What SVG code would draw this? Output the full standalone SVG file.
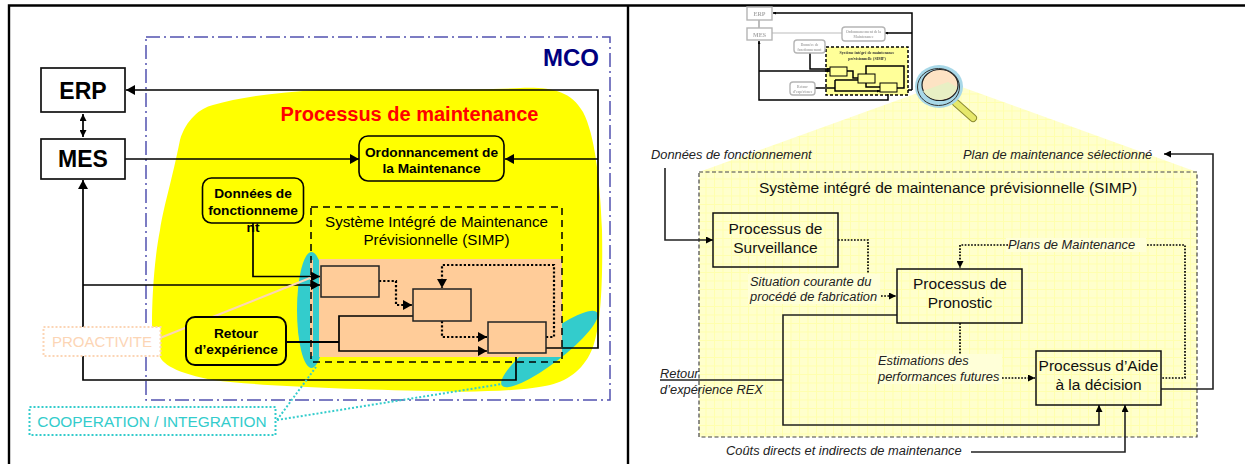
<svg xmlns="http://www.w3.org/2000/svg" width="1245" height="464" viewBox="0 0 1245 464">
<style>
text{font-family:"Liberation Sans",Arial,sans-serif;fill:#000;text-anchor:middle}
.c{fill:none;stroke:#000;stroke-width:1.7}
.d{fill:none;stroke:#000;stroke-width:2.2;stroke-dasharray:2.2 2}
.ds{fill:none;stroke:#000;stroke-width:1.7;stroke-dasharray:1.7 1.5}
.b{fill:#fff;stroke:#111;stroke-width:1.7}
.y{fill:#ffff00;stroke:#000;stroke-width:1.6}
.s{fill:none;stroke:#222;stroke-width:1.6}
.bl{font-weight:bold;font-size:13.7px}
.it{font-style:italic;font-size:12.85px;text-anchor:start;fill:#222}
.p{font-size:15.5px;fill:#111}
.g{fill:#fff;stroke:#b5b5b5;stroke-width:1.4}
.t{font-family:"Liberation Serif",serif;font-weight:bold;fill:#aaa;font-size:3.6px}
.k{fill:none;stroke:#000;stroke-width:1.5}
</style>
<defs>
<marker id="a" markerUnits="userSpaceOnUse" markerWidth="9" markerHeight="10" refX="9" refY="5" orient="auto-start-reverse"><path d="M0 0L9 5L0 10Z" fill="#000"/></marker>
<marker id="as" markerUnits="userSpaceOnUse" markerWidth="7" markerHeight="7" refX="7" refY="3.5" orient="auto-start-reverse"><path d="M0 0L7 3.5L0 7Z" fill="#000"/></marker>
<marker id="at" markerUnits="userSpaceOnUse" markerWidth="3" markerHeight="3" refX="3" refY="1.5" orient="auto"><path d="M0 0L3 1.5L0 3Z" fill="#000"/></marker>
<pattern id="grid" patternUnits="userSpaceOnUse" width="8.5" height="8.5"><rect width="8.5" height="8.5" fill="#ffffcc"/><path d="M0 .5H8.5M.5 0V8.5" stroke="#ffff99" stroke-width="1" opacity=".6"/></pattern>
<filter id="soft"><feGaussianBlur stdDeviation="0.4"/></filter>
</defs>

<g id="frame" fill="none" stroke="#000" stroke-width="2.4">
<path d="M9 464V5.500H1245"/><path d="M628 5.500V464"/>
</g>

<g id="mco"><rect x="146" y="37" width="464" height="363" fill="none" stroke="#5252b0" stroke-width="1.5" stroke-dasharray="14 4 2 4"/>
<text x="571" y="66" font-size="24" font-weight="bold" style="fill:#000080">MCO</text></g>

<path id="processus-zone" fill="#ffff00" d="M320 90C400 90 480 90 520 88C550 87 570 90 583 112C595 135 600 180 602 230C603 280 601 325 593 347C585 368 570 380 550 385C530 390 480 393 433 391C340 389 260 386 213 380C190 376 165 368 160 357C153 345 152 330 152 323C152 300 154 260 160 230C164 205 172 180 180 140C186 120 200 108 213 105C240 97 280 92 320 90Z"/>
<text x="409.500" y="121" font-size="20" font-weight="bold" style="fill:#ff0000">Processus de maintenance</text>

<ellipse id="coop-left" cx="311.500" cy="310" rx="14.500" ry="58" fill="#33cccc"/>
<ellipse id="coop-right" cx="549.500" cy="349" rx="60" ry="14" transform="rotate(-37.500 549.500 349)" fill="#33cccc"/>
<rect id="proactive-zone" x="319" y="259" width="243" height="98" fill="#ffcc99"/>
<rect id="proactive-strip" x="310" y="260" width="3" height="96" fill="#ffcc99"/>

<g id="simp"><rect x="311" y="207" width="251" height="155" fill="none" stroke="#000" stroke-width="1.5" stroke-dasharray="7 5"/>
<text x="436.500" y="227" font-size="15.200">Système Intégré de Maintenance</text>
<text x="436.500" y="245" font-size="15.200">Prévisionnelle (SIMP)</text></g>

<g id="connectors-left">
<path class="c" d="M83 114V137" marker-start="url(#as)" marker-end="url(#as)"/>
<path class="c" d="M125 159H359" marker-end="url(#a)"/>
<path class="c" d="M598 159H505" marker-end="url(#a)"/>
<path class="c" d="M546 348H598V90H126" marker-end="url(#a)"/>
<path class="c" d="M516 357V380H83V180" marker-end="url(#a)"/>
<path class="c" d="M83 285H320" marker-end="url(#a)"/>
<path class="c" d="M253 223V276.500H320" marker-end="url(#a)"/>
<path class="c" d="M286 342H339" style="stroke-width:2.200"/>
<path class="c" d="M413 316H339V351H487" marker-end="url(#a)"/>
<path class="d" d="M379 281H396V305H412" marker-end="url(#a)"/>
<path class="d" d="M442 321V337H487" marker-end="url(#a)"/>
<path class="d" d="M546 337H554V265H442V288" marker-end="url(#a)"/>
<path fill="none" stroke="#fcd5b5" stroke-width="2" d="M160 338L310 278"/>
<path fill="none" stroke="#33cccc" stroke-width="2" stroke-dasharray="2 2" d="M277 420L316 367M277 420L502 384"/>
</g>

<g id="erp"><rect class="b" x="41" y="68" width="84" height="44"/><text x="83" y="99" font-size="23" font-weight="bold">ERP</text></g>
<g id="mes"><rect class="b" x="41" y="139" width="84" height="40"/><text x="83" y="167" font-size="23" font-weight="bold">MES</text></g>
<g id="ordonnancement"><rect class="y" x="359" y="136" width="145" height="45" rx="9"/><text class="bl" x="431.500" y="157">Ordonnancement de</text><text class="bl" x="431.500" y="173">la Maintenance</text></g>
<g id="donnees"><rect class="y" x="202.500" y="178" width="101" height="45" rx="9"/><text class="bl" x="253" y="198">Données de</text><text class="bl" x="253" y="215">fonctionneme</text><text class="bl" x="253" y="232">nt</text></g>
<g id="retour"><rect class="y" x="186" y="317" width="100" height="48" rx="9" style="stroke-width:2"/><text class="bl" x="236" y="338">Retour</text><text class="bl" x="236" y="354">d’expérience</text></g>
<g id="box-a"><rect x="321" y="266" width="58" height="31" fill="none" stroke="#222" stroke-width="1.500"/></g>
<g id="box-b"><rect x="413" y="289" width="58" height="32" fill="none" stroke="#222" stroke-width="1.500"/></g>
<g id="box-c"><rect x="488" y="322" width="58" height="31" fill="none" stroke="#222" stroke-width="1.500"/></g>
<g id="proactivite"><rect x="43.500" y="327" width="117" height="29" fill="#fff" stroke="#fcd5b5" stroke-width="2" stroke-dasharray="2 2"/><text x="102" y="347" font-size="15" style="fill:#fcd5b5">PROACTIVITE</text></g>
<g id="cooperation"><rect x="29.500" y="407" width="246" height="28" fill="#fff" stroke="#33cccc" stroke-width="2" stroke-dasharray="2 2"/><text x="152" y="427" font-size="15.400" style="fill:#33cccc">COOPERATION / INTEGRATION</text></g>

<path id="cone" fill="url(#grid)" d="M948 82L1197 172V437H699V172Z"/>
<rect id="simp-border" x="699" y="172" width="498" height="265" fill="none" stroke="#444" stroke-width="1.200" stroke-dasharray="4 2.500"/>
<text x="948" y="193" font-size="15.500" style="fill:#111">Système intégré de maintenance prévisionnelle (SIMP)</text>

<g id="label-backgrounds" fill="#ffffd8">
<rect x="748" y="274" width="132" height="30"/><rect x="1006" y="238" width="140" height="14"/><rect x="876" y="354" width="126" height="30"/>
</g>

<g id="connectors-right">
<path class="s" d="M665 168V240H713" marker-end="url(#as)"/>
<path class="ds" d="M838 240H868V274"/>
<path class="ds" d="M881 296H896" marker-end="url(#as)"/>
<path class="ds" d="M1008 245H960V268" marker-end="url(#as)"/>
<path class="ds" d="M1147 245H1185V378H1161"/>
<path class="ds" d="M960 323V354"/>
<path class="ds" d="M1002 378H1035" marker-end="url(#as)"/>
<path class="s" d="M660 380H783"/>
<path class="s" d="M897 315H783V425H1099V405" marker-end="url(#as)"/>
<path class="s" d="M971 452H1125V405" marker-end="url(#as)"/>
<path class="s" d="M1161 389H1213V154H1164" marker-end="url(#as)"/>
</g>

<g id="surveillance"><rect x="713" y="213" width="125" height="54" fill="none" stroke="#111" stroke-width="1.500"/><text class="p" x="775.500" y="234">Processus de</text><text class="p" x="775.500" y="253">Surveillance</text></g>
<g id="pronostic"><rect x="897" y="269" width="125" height="54" fill="none" stroke="#111" stroke-width="1.500"/><text class="p" x="960" y="289">Processus de</text><text class="p" x="960" y="308">Pronostic</text></g>
<g id="aide"><rect x="1036" y="351" width="125" height="54" fill="none" stroke="#111" stroke-width="1.500"/><text class="p" x="1098.500" y="371">Processus d’Aide</text><text class="p" x="1098.500" y="390">à la décision</text></g>

<g id="labels-right">
<text class="it" x="651" y="159">Données de fonctionnement</text>
<text class="it" x="963" y="159">Plan de maintenance sélectionné</text>
<text class="it" x="750" y="286">Situation courante du</text>
<text class="it" x="750" y="301">procédé de fabrication</text>
<text class="it" x="1008" y="249">Plans de Maintenance</text>
<text class="it" x="878" y="365">Estimations des</text>
<text class="it" x="878" y="381">performances futures</text>
<text class="it" x="660" y="378">Retour</text>
<text class="it" x="660" y="394">d’expérience REX</text>
<text class="it" x="726" y="455">Coûts directs et indirects de maintenance</text>
</g>

<g id="thumbnail" filter="url(#soft)">
<rect x="826" y="47" width="82" height="48" fill="#ffff99" stroke="#000" stroke-width="1.500" stroke-dasharray="3 2"/>
<path class="k" d="M912 90V13H773" marker-end="url(#at)"/>
<path class="k" d="M912 33H885" marker-end="url(#at)"/>
<path class="k" d="M908 90H912M888 94V100H759V41" marker-end="url(#at)"/>
<path class="k" d="M759 71H830" marker-end="url(#at)"/>
<path class="k" d="M810 53V69H830" marker-end="url(#at)"/>
<path class="k" d="M815 88H835M835 80H858M835 80V91H880" marker-end="url(#at)"/>
<path class="k" d="M847 71H853V78H858M866 83V87H880M897 88H904V66H866V74"/>
<path d="M772 33H842" fill="none" stroke="#bbb" stroke-width="1"/>
<path d="M759 20V28" fill="none" stroke="#999" stroke-width="1.300"/>
<rect class="g" x="747" y="7" width="25" height="13"/><rect class="g" x="747" y="28" width="25" height="12"/>
<rect class="g" x="842" y="27" width="43" height="14" rx="3"/><rect class="g" x="794" y="40" width="31" height="13" rx="3"/><rect class="g" x="790" y="82" width="25" height="13" rx="3"/>
<rect x="830" y="67" width="17" height="9" fill="#ffff99" stroke="#000"/><rect x="858" y="74" width="17" height="9" fill="#ffff99" stroke="#000"/><rect x="880" y="83" width="17" height="9" fill="#ffff99" stroke="#000"/>
<text x="759.500" y="16" class="t" style="font-size:6px">ERP</text>
<text x="759.500" y="36.500" class="t" style="font-size:6px">MES</text>
<text x="863.500" y="33" class="t">Ordonnancement de la</text><text x="863.500" y="38" class="t">Maintenance</text>
<text x="809.500" y="45.500" class="t">Données de</text><text x="809.500" y="50.500" class="t">fonctionnement</text>
<text x="802.500" y="87.500" class="t">Retour</text><text x="802.500" y="92.500" class="t">d’expérience</text>
<text x="867" y="53.500" class="t" style="fill:#333;font-size:4px">Système intégré de maintenance</text>
<text x="867" y="59.500" class="t" style="fill:#333;font-size:4px">prévisionnelle (SIMP)</text>
</g>

<g id="magnifier">
<path d="M956 103L973 118" stroke="#8a8a30" stroke-width="8" stroke-linecap="round"/>
<path d="M956 103L973 118" stroke="#e6e86a" stroke-width="6" stroke-linecap="round"/>
<ellipse cx="939" cy="86.500" rx="24" ry="21.500" fill="#a8d8e8"/>
<ellipse cx="940" cy="85" rx="18" ry="15.500" fill="#fde3c4" stroke="#222" stroke-width="1.200"/>
<path d="M923 91L948 82L957 87A18 15.500 0 0 1 923 91Z" fill="#e8efc4"/>
<ellipse cx="938.500" cy="87" rx="21" ry="18.500" fill="none" stroke="#333" stroke-width="1"/>
</g>
</svg>
